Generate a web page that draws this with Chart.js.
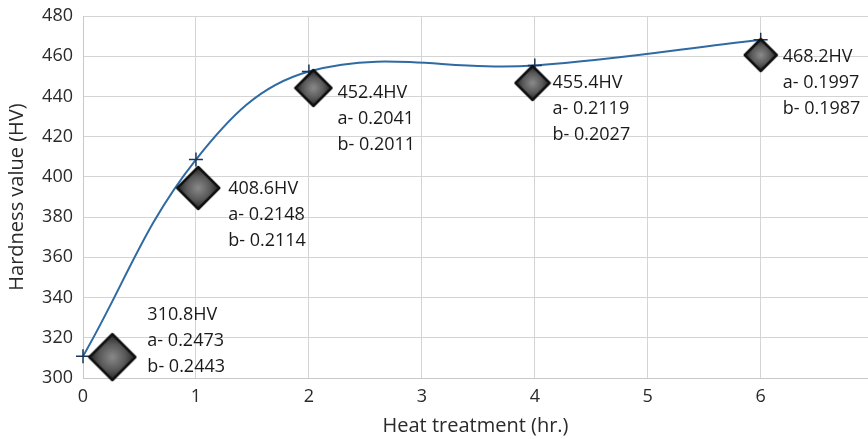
<!DOCTYPE html>
<html>
<head>
<meta charset="utf-8">
<script src="https://cdn.jsdelivr.net/npm/chart.js@4.4.0/dist/chart.umd.min.js"></script>
<style>
  html, body { margin: 0; padding: 0; background: #fff; }
  #wrap { width: 868px; height: 439px; }
</style>
</head>
<body>
<div id="wrap"><canvas id="myChart" width="868" height="439"></canvas></div>
<script>
// hardness after heat treatment
const hours = [0, 1, 2, 4, 6];
const hardness = [310.8, 408.6, 452.4, 455.4, 468.2];
const diagA = [0.2473, 0.2148, 0.2041, 0.2119, 0.1997];
const diagB = [0.2443, 0.2114, 0.2011, 0.2027, 0.1987];

// diamond markers beside each reading
const markerX = [0.26, 1.02, 2.04, 3.98, 6.0];
const markerY = [310.4, 394.5, 444.2, 446.7, 460.6];

const xTicks = [0, 1, 2, 3, 4, 5, 6];
const yTicks = [300, 320, 340, 360, 380, 400, 420, 440, 460, 480];

// styling
const FONT = "'Open Sans', 'DejaVu Sans', sans-serif";
const diamondRadius = [23, 21, 18, 17, 16];
const labelOffset = [[35, -42], [30, 1], [24, 5], [20, 0], [22, 2]];

function makeDiamond(r) {
  const c = document.createElement('canvas');
  const s = 2 * r + 4;
  c.width = s; c.height = s;
  const g = c.getContext('2d');
  const m = s / 2;
  const grad = g.createRadialGradient(m, m, 1, m, m, r * 0.9);
  grad.addColorStop(0, '#868686');
  grad.addColorStop(0.6, '#5a5a5a');
  grad.addColorStop(1, '#303030');
  g.beginPath();
  g.moveTo(m, m - r); g.lineTo(m + r, m); g.lineTo(m, m + r); g.lineTo(m - r, m);
  g.closePath();
  g.fillStyle = grad;
  g.fill();
  g.lineWidth = 2.5;
  g.lineJoin = 'round';
  g.strokeStyle = '#101010';
  g.stroke();
  return c;
}
const diamonds = diamondRadius.map(makeDiamond);

const labelPlugin = {
  id: 'hvLabels',
  afterDatasetsDraw(chart) {
    const ctx = chart.ctx;
    const xs = chart.scales.x, ys = chart.scales.y;
    ctx.save();
    ctx.font = '18px ' + FONT;
    ctx.fillStyle = '#1a1a1a';
    ctx.textAlign = 'left';
    ctx.textBaseline = 'middle';
    hardness.forEach((v, i) => {
      const px = xs.getPixelForValue(markerX[i]) + labelOffset[i][0];
      const py = ys.getPixelForValue(markerY[i]) + labelOffset[i][1];
      ctx.fillText(v.toFixed(1) + 'HV', px, py);
      ctx.fillText('a- ' + diagA[i].toFixed(4), px, py + 26);
      ctx.fillText('b- ' + diagB[i].toFixed(4), px, py + 52);
    });
    ctx.restore();
  }
};

const ctx = document.getElementById('myChart').getContext('2d');
new Chart(ctx, {
  type: 'scatter',
  data: {
    datasets: [
      {
        data: hours.map((h, i) => ({ x: h, y: hardness[i] })),
        showLine: true,
        tension: 0.38,
        borderColor: '#2f6aa3',
        borderWidth: 2,
        pointStyle: 'cross',
        pointRadius: 7,
        pointBorderWidth: 1.5,
        pointBorderColor: '#1d3658',
        clip: false,
        order: 2
      },
      {
        data: markerX.map((x, i) => ({ x: x, y: markerY[i] })),
        pointStyle: diamonds,
        pointRadius: diamondRadius,
        clip: false,
        order: 1
      }
    ]
  },
  options: {
    responsive: false,
    animation: false,
    layout: { autoPadding: false, padding: { top: 16, right: 0, left: 0, bottom: 0 } },
    plugins: { legend: { display: false }, tooltip: { enabled: false } },
    scales: {
      x: {
        type: 'linear',
        min: 0,
        max: 6.95,
        afterBuildTicks: s => { s.ticks = xTicks.map(v => ({ value: v })); },
        afterFit: s => { s.height = 61; s.paddingRight = 0; s.paddingLeft = 0; },
        grid: { color: '#d4d4d4', drawTicks: false },
        border: { color: '#c8c8c8' },
        ticks: { padding: 8, color: '#2a2a2a', font: { family: FONT, size: 18 } },
        title: {
          display: true,
          text: 'Heat treatment (hr.)',
          color: '#2a2a2a',
          font: { family: FONT, size: 20 },
          padding: { top: 0, bottom: 1 }
        }
      },
      y: {
        min: 300,
        max: 480,
        afterBuildTicks: s => { s.ticks = yTicks.map(v => ({ value: v })); },
        afterFit: s => { s.width = 83; s.paddingTop = 0; s.paddingBottom = 0; },
        grid: { color: '#d4d4d4', drawTicks: false },
        border: { color: '#c8c8c8' },
        ticks: { padding: 10, color: '#2a2a2a', font: { family: FONT, size: 18 } },
        title: {
          display: true,
          text: 'Hardness value (HV)',
          color: '#2a2a2a',
          font: { family: FONT, size: 20 },
          padding: { top: 5, bottom: 0 }
        }
      }
    }
  },
  plugins: [labelPlugin]
});
</script>
</body>
</html>
